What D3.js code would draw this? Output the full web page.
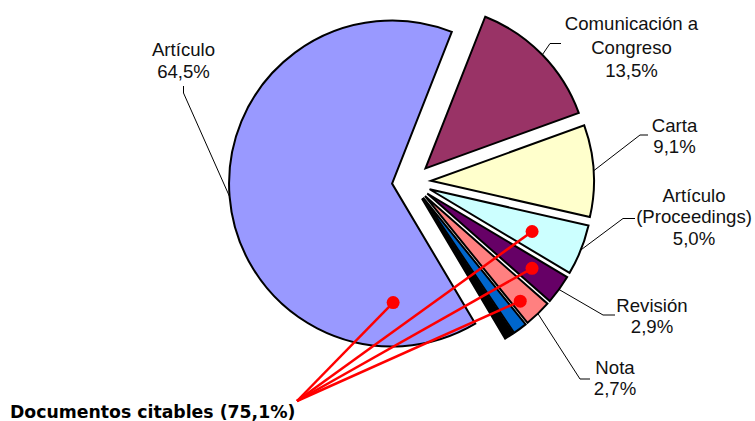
<!DOCTYPE html>
<html>
<head>
<meta charset="utf-8">
<script src="https://cdn.jsdelivr.net/npm/d3@7"></script>
<style>
  html, body { margin: 0; padding: 0; background: #fff; }
  svg { display: block; }
</style>
</head>
<body>
<svg id="chart" width="755" height="421"></svg>
<script>
// ---- data ----
const categories = ["Artículo", "Comunicación a Congreso", "Carta", "Artículo (Proceedings)", "Revisión", "Nota", "Editorial", "Otros"];
const values = [64.5, 13.5, 9.1, 5.0, 2.9, 2.7, 1.4, 0.9];
const labelLines = [["Artículo"], ["Comunicación a", "Congreso"], ["Carta"], ["Artículo", "(Proceedings)"], ["Revisión"], ["Nota"], [], []];
const citable = [true, false, false, true, true, true, false, false];
const citableLabel = "Documentos citables (75,1%)";

// ---- style / layout ----
const colors = ["#9999FF", "#993366", "#FFFFCC", "#CCFFFF", "#660066", "#FF8080", "#0066CC", "#000000"];
const center = [411.5, 182];
const radius = 163;
const explode = 19.5;
const startDeg = 149.3;
// label layout: [centerX, firstBaseline, lineStep, leaderStart, leaderElbow]
const labelLayout = [
  [183.5, 55.5, 22.5, [183.5, 86], [183.5, 93]],
  [631.5, 30, 23.5, [561, 43.5], [550, 43.5]],
  [674.5, 131.5, 21.5, [648, 135], [640, 135]],
  [694, 201.5, 21.5, [635, 218.5], [623, 218.5]],
  [652, 311.5, 21.5, [615, 315], [603, 315]],
  [615, 373.5, 21.5, [590, 379], [580, 379]],
  null, null
];
// citable dot placement: [fraction of slice angle, fraction of radius]
const dotLayout = [[0.13, 0.73], null, null, [0.53, 0.68], [0.45, 0.79], [0.67, 0.87], null, null];
const citableOrigin = [297, 401];

const svg = d3.select("#chart");
const toRad = Math.PI / 180;
const pie = d3.pie().sort(null).value(d => d)
  .startAngle(startDeg * toRad).endAngle(startDeg * toRad + 2 * Math.PI);
const arcs = pie(values);
const arcGen = d3.arc().innerRadius(0).outerRadius(radius);

function offsetOf(a) {
  const mid = (a.startAngle + a.endAngle) / 2;
  return [center[0] + explode * Math.sin(mid), center[1] - explode * Math.cos(mid)];
}
function polar(o, ang, r) {
  return [o[0] + r * Math.sin(ang), o[1] - r * Math.cos(ang)];
}

const g = svg.append("g");
g.selectAll("path.slice")
  .data(arcs)
  .join("path")
  .attr("class", "slice")
  .attr("transform", d => `translate(${offsetOf(d)[0]},${offsetOf(d)[1]})`)
  .attr("d", arcGen)
  .attr("fill", (d, i) => colors[i])
  .attr("stroke", "#000")
  .attr("stroke-width", 2)
  .attr("stroke-linejoin", "miter");

// leader lines
arcs.forEach((a, i) => {
  const lay = labelLayout[i];
  if (!lay) return;
  const o = offsetOf(a);
  const mid = (a.startAngle + a.endAngle) / 2;
  const end = polar(o, mid, radius);
  svg.append("polyline")
    .attr("points", [lay[3], lay[4], end].map(p => p.join(",")).join(" "))
    .attr("fill", "none")
    .attr("stroke", "#000")
    .attr("stroke-width", 1);
});

// labels
arcs.forEach((a, i) => {
  const lay = labelLayout[i];
  if (!lay) return;
  const lines = labelLines[i].concat([d3.format(".1f")(values[i]).replace(".", ",") + "%"]);
  const t = svg.append("text")
    .attr("text-anchor", "middle")
    .attr("font-family", "'Liberation Sans', Arial, sans-serif")
    .attr("font-size", 18.6)
    .attr("fill", "#111");
  lines.forEach((ln, k) => {
    t.append("tspan").attr("x", lay[0]).attr("y", lay[1] + k * lay[2]).text(ln);
  });
});

// citable annotation
arcs.forEach((a, i) => {
  if (!citable[i]) return;
  const dl = dotLayout[i];
  const o = offsetOf(a);
  const ang = a.startAngle + dl[0] * (a.endAngle - a.startAngle);
  const p = polar(o, ang, dl[1] * radius);
  svg.append("line")
    .attr("x1", citableOrigin[0]).attr("y1", citableOrigin[1])
    .attr("x2", p[0]).attr("y2", p[1])
    .attr("stroke", "#FF0000").attr("stroke-width", 2.5);
  svg.append("circle")
    .attr("cx", p[0]).attr("cy", p[1]).attr("r", 6.5)
    .attr("fill", "#FF0000");
});

svg.append("text")
  .attr("x", 10).attr("y", 417.5)
  .attr("font-family", "'DejaVu Sans', Verdana, sans-serif")
  .attr("font-weight", "bold")
  .attr("font-size", 17.3)
  .attr("fill", "#000")
  .text(citableLabel);
</script>
</body>
</html>
